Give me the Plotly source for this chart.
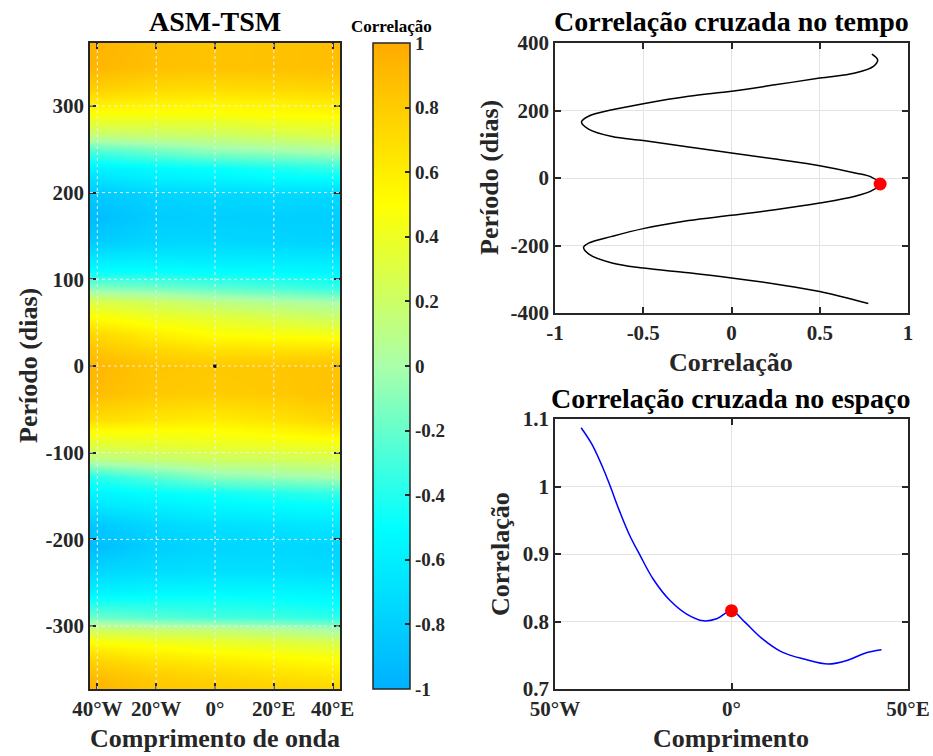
import plotly.graph_objects as go

# ---------------- data ----------------
# heatmap (ASM-TSM): columns = longitude (deg), rows = period (days)
hm_lon = [-42.5, -21.25, 0.0, 21.25, 42.5]
hm_period = [-372, -359, -339, -320, -305, -289, -270, -258, -235, -209, -185, -162, -147,
             -128, -108, -89, -74, -62, -31, 0, 16, 36, 55, 74, 90, 108, 120, 143, 171,
             197, 217, 228, 247, 266, 280, 293, 305, 320, 344, 372]
hm_corr = [
    [0.95, 0.84, 0.80, 0.77, 0.75],
    [0.90, 0.80, 0.75, 0.70, 0.65],
    [0.76, 0.66, 0.60, 0.55, 0.50],
    [0.52, 0.45, 0.40, 0.35, 0.28],
    [0.22, 0.18, 0.15, 0.08, 0.00],
    [-0.18, -0.25, -0.30, -0.33, -0.38],
    [-0.46, -0.45, -0.45, -0.48, -0.52],
    [-0.60, -0.56, -0.55, -0.56, -0.58],
    [-0.76, -0.72, -0.70, -0.70, -0.72],
    [-0.92, -0.80, -0.76, -0.75, -0.76],
    [-0.86, -0.76, -0.70, -0.68, -0.65],
    [-0.66, -0.60, -0.55, -0.52, -0.50],
    [-0.56, -0.50, -0.45, -0.40, -0.35],
    [-0.40, -0.25, -0.10, -0.05, 0.00],
    [0.08, 0.15, 0.20, 0.22, 0.25],
    [0.35, 0.38, 0.40, 0.42, 0.45],
    [0.52, 0.50, 0.50, 0.55, 0.62],
    [0.70, 0.64, 0.60, 0.66, 0.75],
    [0.90, 0.82, 0.80, 0.82, 0.86],
    [0.93, 0.84, 0.82, 0.83, 0.85],
    [0.86, 0.76, 0.70, 0.70, 0.72],
    [0.75, 0.60, 0.50, 0.48, 0.45],
    [0.52, 0.42, 0.35, 0.28, 0.20],
    [0.30, 0.22, 0.12, 0.05, 0.00],
    [-0.10, -0.15, -0.22, -0.28, -0.35],
    [-0.48, -0.48, -0.50, -0.52, -0.55],
    [-0.60, -0.58, -0.60, -0.60, -0.62],
    [-0.82, -0.76, -0.75, -0.76, -0.78],
    [-0.92, -0.82, -0.80, -0.80, -0.80],
    [-0.85, -0.78, -0.75, -0.74, -0.75],
    [-0.68, -0.60, -0.56, -0.52, -0.50],
    [-0.58, -0.52, -0.48, -0.42, -0.35],
    [-0.30, -0.20, -0.10, -0.05, 0.00],
    [0.15, 0.18, 0.20, 0.25, 0.30],
    [0.35, 0.35, 0.35, 0.40, 0.42],
    [0.50, 0.50, 0.50, 0.52, 0.55],
    [0.62, 0.58, 0.56, 0.58, 0.62],
    [0.78, 0.72, 0.70, 0.72, 0.75],
    [0.93, 0.87, 0.85, 0.86, 0.88],
    [0.95, 0.88, 0.85, 0.86, 0.88],
]
hm_center_lon = [0]
hm_center_period = [0]

# cross-correlation in time
time_period = [367, 350, 331, 311, 296, 276, 257, 242, 220, 202, 183, 166, 145, 123, 111,
               92, 74, 56, 36.5, 15, 2, -17.8, -37.5, -54, -74, -94, -110.6, -126, -150,
               -173, -193, -205, -225, -252, -267, -281, -296, -314, -336, -372]
time_corr = [0.795, 0.828, 0.804, 0.70, 0.50, 0.247, 0.0, -0.243, -0.5, -0.677, -0.81,
             -0.85, -0.81, -0.677, -0.5, -0.243, 0.0, 0.247, 0.5, 0.70, 0.795, 0.842,
             0.795, 0.70, 0.5, 0.247, 0.0, -0.243, -0.5, -0.677, -0.81, -0.838, -0.81,
             -0.677, -0.5, -0.243, 0.0, 0.247, 0.5, 0.775]
time_peak_corr = [0.842]
time_peak_period = [-17.8]

# cross-correlation in space
space_lon = [-42.6, -39.6, -36.3, -34.4, -31.6, -28.8, -25.9, -22.2, -17.4, -12.7, -8.0,
             -4.2, 0.0, 3.8, 8.6, 14.2, 20.8, 27.4, 33.1, 37.8, 42.5]
space_corr = [1.087, 1.063, 1.026, 1.001, 0.962, 0.927, 0.898, 0.863, 0.831, 0.811, 0.801,
              0.804, 0.816, 0.799, 0.775, 0.755, 0.744, 0.737, 0.743, 0.753, 0.758]
space_peak_lon = [0.0]
space_peak_corr = [0.816]

# ticks
hm_xtick_vals = [-40, -20, 0, 20, 40]
hm_xtick_text = ["40°W", "20°W", "0°", "20°E", "40°E"]
hm_ytick_vals = [-300, -200, -100, 0, 100, 200, 300]
hm_ytick_text = ["-300", "-200", "-100", "0", "100", "200", "300"]
cb_tick_vals = [-1, -0.8, -0.6, -0.4, -0.2, 0, 0.2, 0.4, 0.6, 0.8, 1]
cb_tick_text = ["-1", "-0.8", "-0.6", "-0.4", "-0.2", "0", "0.2", "0.4", "0.6", "0.8", "1"]
t_xtick_vals = [-1, -0.5, 0, 0.5, 1]
t_xtick_text = ["-1", "-0.5", "0", "0.5", "1"]
t_ytick_vals = [-400, -200, 0, 200, 400]
t_ytick_text = ["-400", "-200", "0", "200", "400"]
s_xtick_vals = [-50, 0, 50]
s_xtick_text = ["50°W", "0°", "50°E"]
s_ytick_vals = [0.7, 0.8, 0.9, 1.0, 1.1]
s_ytick_text = ["0.7", "0.8", "0.9", "1", "1.1"]

# ---------------- figure ----------------
W, H = 933, 756
FONT = "Liberation Serif"
DARK = "#262626"

def px_x(p):
    return p / W

def px_y(p):
    return 1 - p / H

colorscale = [
    [0.0, "rgb(0,176,255)"],
    [0.25, "rgb(0,255,255)"],
    [0.5, "rgb(170,255,170)"],
    [0.75, "rgb(255,255,0)"],
    [1.0, "rgb(255,170,0)"],
]

fig = go.Figure()

fig.add_trace(go.Heatmap(
    x=hm_lon, y=hm_period, z=hm_corr, zmin=-1, zmax=1, zsmooth="best",
    colorscale=colorscale, xaxis="x", yaxis="y", hoverinfo="skip",
    colorbar=dict(
        x=px_x(373), xanchor="left", xref="paper", xpad=0,
        y=px_y(689), yanchor="bottom", yref="paper", ypad=0,
        len=(689 - 43) / H, lenmode="fraction",
        thickness=37, thicknessmode="pixels",
        outlinewidth=1.5, outlinecolor=DARK,
        tickvals=cb_tick_vals, ticktext=cb_tick_text,
        ticks="inside", ticklen=5, tickcolor=DARK, tickwidth=1.5,
        tickfont=dict(family=FONT, size=19, color=DARK, weight="bold"),
    ),
))
fig.add_trace(go.Scatter(
    x=hm_center_lon, y=hm_center_period, mode="markers",
    marker=dict(color="black", size=4), xaxis="x", yaxis="y", hoverinfo="skip",
))

fig.add_trace(go.Scatter(
    x=time_corr, y=time_period, mode="lines", line=dict(color="black", width=1.5, shape="spline"),
    xaxis="x2", yaxis="y2", hoverinfo="skip",
))
fig.add_trace(go.Scatter(
    x=time_peak_corr, y=time_peak_period, mode="markers",
    marker=dict(color="red", size=13), xaxis="x2", yaxis="y2", hoverinfo="skip",
))

fig.add_trace(go.Scatter(
    x=space_lon, y=space_corr, mode="lines", line=dict(color="blue", width=1.5, shape="spline"),
    xaxis="x3", yaxis="y3", hoverinfo="skip",
))
fig.add_trace(go.Scatter(
    x=space_peak_lon, y=space_peak_corr, mode="markers",
    marker=dict(color="red", size=13), xaxis="x3", yaxis="y3", hoverinfo="skip",
))

tickfont = dict(family=FONT, size=21, color=DARK, weight="bold")
axis_common = dict(
    showline=True, linecolor=DARK, linewidth=1.5, mirror="ticks",
    ticks="inside", ticklen=6, tickcolor=DARK, tickwidth=1.5,
    tickfont=tickfont, zeroline=False, automargin=False,
)
GRID = "#e3e3e3"

fig.update_layout(
    template="none",
    width=W, height=H, margin=dict(l=0, r=0, t=0, b=0, pad=0, autoexpand=False),
    paper_bgcolor="white", plot_bgcolor="white", showlegend=False,
    xaxis=dict(domain=[px_x(90), px_x(340)], range=[-42.5, 42.5], anchor="y",
               tickvals=hm_xtick_vals, ticktext=hm_xtick_text, showgrid=False, **axis_common),
    yaxis=dict(domain=[px_y(689), px_y(43)], range=[-372.5, 372.5], anchor="x",
               tickvals=hm_ytick_vals, ticktext=hm_ytick_text, showgrid=False, **axis_common),
    xaxis2=dict(domain=[px_x(555), px_x(908)], range=[-1, 1], anchor="y2",
                tickvals=t_xtick_vals, ticktext=t_xtick_text,
                showgrid=True, gridcolor=GRID, gridwidth=1.2, **axis_common),
    yaxis2=dict(domain=[px_y(313), px_y(43)], range=[-400, 400], anchor="x2",
                tickvals=t_ytick_vals, ticktext=t_ytick_text,
                showgrid=True, gridcolor=GRID, gridwidth=1.2, **axis_common),
    xaxis3=dict(domain=[px_x(555), px_x(908)], range=[-50, 50], anchor="y3",
                tickvals=s_xtick_vals, ticktext=s_xtick_text,
                showgrid=True, gridcolor=GRID, gridwidth=1.2, **axis_common),
    yaxis3=dict(domain=[px_y(689), px_y(419)], range=[0.7, 1.1], anchor="x3",
                tickvals=s_ytick_vals, ticktext=s_ytick_text,
                showgrid=True, gridcolor=GRID, gridwidth=1.2, **axis_common),
)

# dotted white grid over the heatmap, at the tick positions
shapes = []
for v in hm_xtick_vals:
    shapes.append(dict(type="line", xref="x", yref="y domain", x0=v, x1=v, y0=0, y1=1,
                       line=dict(color="rgba(240,240,240,0.95)", width=1, dash="dot"),
                       layer="above"))
for v in hm_ytick_vals:
    shapes.append(dict(type="line", xref="x domain", yref="y", x0=0, x1=1, y0=v, y1=v,
                       line=dict(color="rgba(240,240,240,0.95)", width=1, dash="dot"),
                       layer="above"))
fig.update_layout(shapes=shapes)

def ann(text, x, y, size, angle=0, color="black"):
    return dict(text=text, x=px_x(x), y=px_y(y), xref="paper", yref="paper",
                xanchor="center", yanchor="middle", showarrow=False, textangle=angle,
                font=dict(family=FONT, size=size, color=color, weight="bold"))

fig.update_layout(annotations=[
    ann("ASM-TSM", 215, 22, 28),
    ann("Correlação cruzada no tempo", 731, 22, 28),
    ann("Correlação cruzada no espaço", 731, 398, 28),
    ann("Correlação", 391, 27, 17),
    ann("Comprimento de onda", 215, 738, 26, color=DARK),
    ann("Correlação", 731, 362, 26, color=DARK),
    ann("Comprimento", 731, 738, 26, color=DARK),
    ann("Período (dias)", 28, 366, 26, angle=-90, color=DARK),
    ann("Período (dias)", 489, 178, 26, angle=-90, color=DARK),
    ann("Correlação", 500, 554, 26, angle=-90, color=DARK),
])

fig.write_html("out.html")
